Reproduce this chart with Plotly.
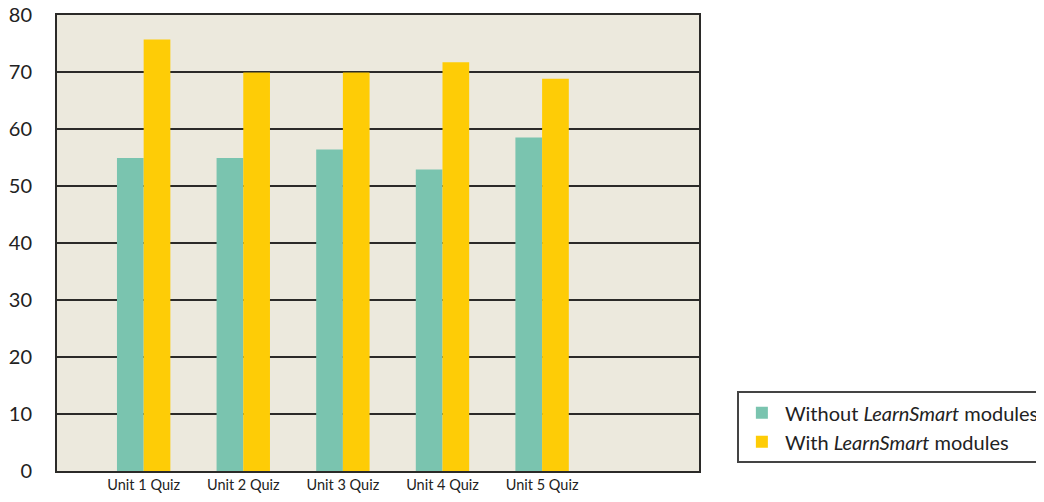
import plotly.graph_objects as go

categories = ["Unit 1 Quiz", "Unit 2 Quiz", "Unit 3 Quiz", "Unit 4 Quiz", "Unit 5 Quiz"]
without_ls = [54.9, 54.9, 56.4, 52.9, 58.5]
with_ls = [75.7, 69.9, 69.9, 71.7, 68.8]
y_ticks = [0, 10, 20, 30, 40, 50, 60, 70, 80]

FONT = "Lato"

fig = go.Figure()
fig.add_trace(go.Bar(x=categories, y=without_ls, name="Without <i>LearnSmart</i> modules",
                     legendgroup="without",
                     marker=dict(color="#7AC4AF", line=dict(width=0))))
fig.add_trace(go.Bar(x=categories, y=with_ls, name="With <i>LearnSmart</i> modules",
                     legendgroup="with",
                     marker=dict(color="#FECC06", line=dict(width=0))))

fig.update_layout(
    width=1044, height=502,
    margin=dict(l=49, r=353, t=7, b=39, autoexpand=False),
    paper_bgcolor="white",
    plot_bgcolor="#ECE9DD",
    barmode="group",
    bargap=0.464,
    bargroupgap=0,
    font=dict(family=FONT, color="#222222"),
    showlegend=True,
    legend=dict(x=1.059, y=0.017, xanchor="left", yanchor="bottom",
                bgcolor="white", bordercolor="#444444", borderwidth=2,
                font=dict(size=20, family=FONT, color="#222222"),
                traceorder="normal", tracegroupgap=3, itemwidth=36),
)
fig.update_xaxes(
    type="category", range=[-0.87, 5.575], automargin=False,
    showline=True, linecolor="#2B2A28", linewidth=2, mirror=True,
    showgrid=False, ticks="", tickfont=dict(size=14.5, family=FONT, color="#222222"),
)
fig.update_yaxes(
    range=[0, 80], tickvals=y_ticks, automargin=False,
    showline=True, linecolor="#2B2A28", linewidth=2, mirror=True,
    showgrid=True, gridcolor="#2B2A28", gridwidth=2,
    zeroline=False, ticks="", ticklabelstandoff=19, ticklabeloverflow="allow",
    tickfont=dict(size=20, family=FONT, color="#222222"),
)
fig.write_html("out.html")
